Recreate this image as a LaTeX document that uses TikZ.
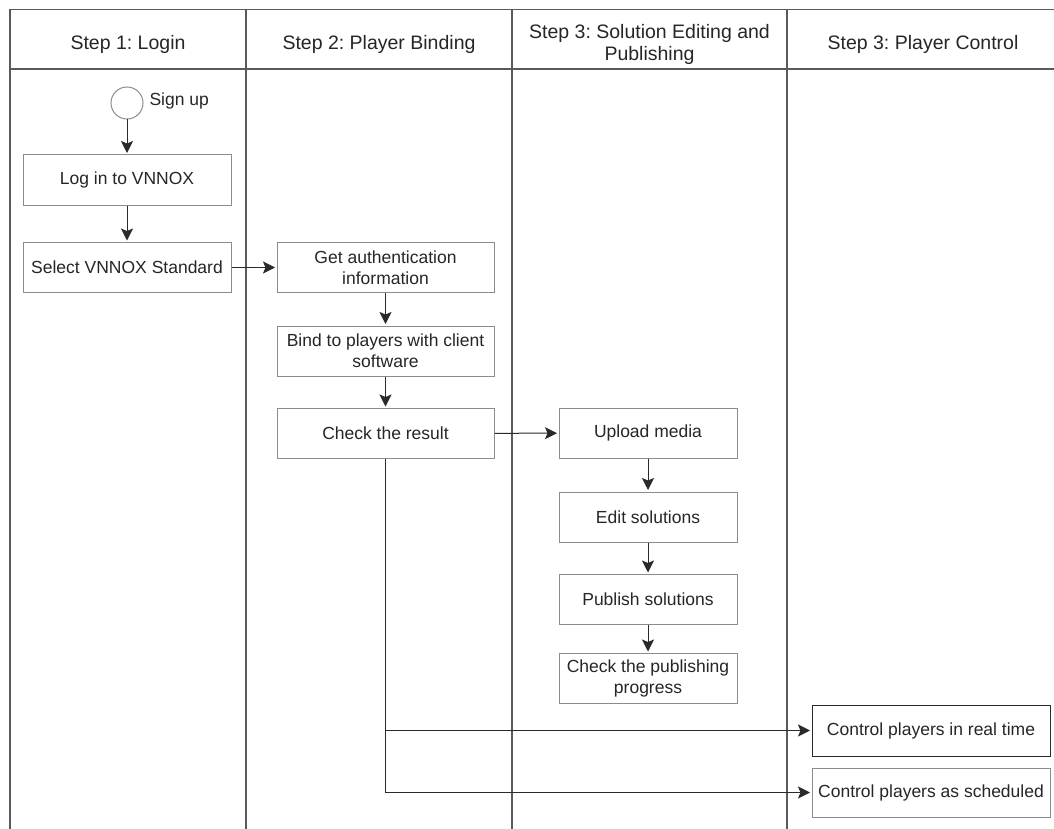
\documentclass[tikz,border=0pt]{standalone}
\usepackage{fontspec}
\setmainfont{Liberation Sans}
\usetikzlibrary{arrows.meta}
\frenchspacing
\definecolor{frameC}{HTML}{5A5A5A}
\definecolor{boxC}{HTML}{8C8C8C}
\definecolor{arrC}{HTML}{2A2A2A}
\tikzset{
  frameline/.style={draw=frameC, line width=1.2pt},
  hdr/.style={font=\fontsize{19.5}{22}\selectfont, align=center, text=black!85},
  stepbox/.style={draw=boxC, line width=1pt, fill=white, align=center, inner sep=0pt,
    font=\fontsize{17.5}{21}\selectfont, text=black!85},
  arr/.style={draw=arrC, line width=1pt, -{Stealth[length=12pt,width=12pt,inset=2.5pt]}, shorten >=1.5pt},
}
\begin{document}
\begin{tikzpicture}[x=1pt,y=-1pt]
\useasboundingbox (0,0) rectangle (1054,829);
\fill[white] (0,0) rectangle (1054,829);
% frame
\draw[frameline] (1054,9.5) -- (10,9.5) -- (10,829);
\draw[frameline] (10,69) -- (1054,69);
\draw[frameline] (246,9.5) -- (246,829);
\draw[frameline] (512,9.5) -- (512,829);
\draw[frameline] (787,9.5) -- (787,829);
% headers
\node[hdr] (h1) at (128,44) {Step 1: Login};
\node[hdr] (h2) at (379,44) {Step 2: Player Binding};
\node[hdr] (h3) at (649.5,44) {Step 3: Solution Editing and\\Publishing};
\node[hdr] (h4) at (923,44) {Step 3: Player Control};
% nodes
\node[circle, draw=boxC, line width=1pt, minimum size=32pt, inner sep=0pt] (signup) at (127,103) {};
\node[anchor=west, font=\fontsize{17.5}{21}\selectfont, text=black!85] (signuplbl) at (146,101) {Sign up};
\node[stepbox, minimum width=208pt, minimum height=50pt] (login) at (127,180) {Log in to VNNOX};
\node[stepbox, minimum width=208pt, minimum height=50pt] (select) at (127,267.5) {Select VNNOX Standard};
\node[stepbox, minimum width=217pt, minimum height=50pt] (auth) at (385.5,267.5) {Get authentication\\information};
\node[stepbox, minimum width=217pt, minimum height=50pt] (bind) at (385.5,351) {Bind to players with client\\software};
\node[stepbox, minimum width=217pt, minimum height=50pt] (check) at (385.5,433.5) {Check the result};
\node[stepbox, minimum width=178pt, minimum height=50pt] (upload) at (648,433) {Upload media};
\node[stepbox, minimum width=178pt, minimum height=50pt] (edit) at (648,517) {Edit solutions};
\node[stepbox, minimum width=178pt, minimum height=50pt] (publish) at (648,599.5) {Publish solutions};
\node[stepbox, minimum width=178pt, minimum height=50pt] (progress) at (648,678.5) {Check the publishing\\progress};
\node[stepbox, draw=arrC, minimum width=238pt, minimum height=51pt] (rt) at (931,730.5) {Control players in real time};
\node[stepbox, minimum width=238pt, minimum height=49pt] (sched) at (931,792.5) {Control players as scheduled};
% connectors
\draw[arr] (signup) -- (login);
\draw[arr] (login) -- (select);
\draw[arr] (select) -- (auth);
\draw[arr] (auth) -- (bind);
\draw[arr] (bind) -- (check);
\draw[arr] (check) -- (upload);
\draw[arr] (upload) -- (edit);
\draw[arr] (edit) -- (publish);
\draw[arr] (publish) -- (progress);
\draw[arr] (check.south) |- (sched.west);
\draw[arr] (check.south |- rt.west) -- (rt.west);
\end{tikzpicture}
\end{document}
